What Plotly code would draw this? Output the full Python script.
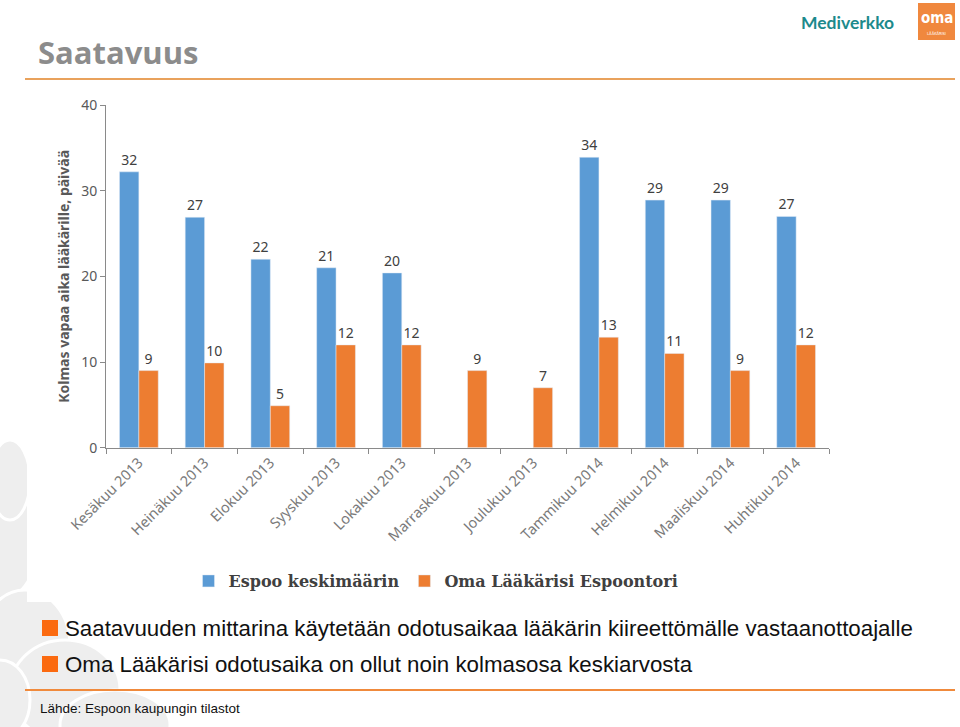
import plotly.graph_objects as go

# ---- data ----
categories = ["Kesäkuu 2013", "Heinäkuu 2013", "Elokuu 2013", "Syyskuu 2013", "Lokakuu 2013",
              "Marraskuu 2013", "Joulukuu 2013", "Tammikuu 2014", "Helmikuu 2014",
              "Maaliskuu 2014", "Huhtikuu 2014"]
espoo = [32.2, 26.9, 22.0, 21.0, 20.4, None, None, 33.9, 28.9, 28.9, 27.0]
oma = [9.0, 9.9, 4.9, 12.0, 12.0, 9.0, 7.0, 12.9, 11.0, 9.0, 12.0]
series_names = ["Espoo keskimäärin", "Oma Lääkärisi Espoontori"]
y_title = "Kolmas vapaa aika lääkärille, päivää"
y_ticks = [0, 10, 20, 30, 40]
slide_title = "Saatavuus"
bullets = ["Saatavuuden mittarina käytetään odotusaikaa lääkärin kiireettömälle vastaanottoajalle",
           "Oma Lääkärisi odotusaika on ollut noin kolmasosa keskiarvosta"]
source = "Lähde: Espoon kaupungin tilastot"

W, H = 960, 727
BLUE = "#5b9bd5"
ORANGE = "#ed7d31"

def px(x):
    return x / W

def py(y):
    return 1 - y / H

fig = go.Figure()
fig.add_trace(go.Bar(x=categories, y=espoo, name=series_names[0], marker_color=BLUE,
                     texttemplate="%{y:.0f}", textposition="outside", cliponaxis=False,
                     textfont=dict(family="Noto Sans", size=14, color="#404040")))
fig.add_trace(go.Bar(x=categories, y=oma, name=series_names[1], marker_color=ORANGE,
                     texttemplate="%{y:.0f}", textposition="outside", cliponaxis=False,
                     textfont=dict(family="Noto Sans", size=14, color="#404040")))

shapes = []
# decorative background leaves (bottom-left)
leaf = "#eeeeee"
for (x0, y0, x1, y1) in [(-40, 470, 40, 600), (-20, 590, 70, 700), (10, 640, 120, 740),
                         (60, 690, 170, 760), (-30, 660, 30, 740), (-10, 440, 30, 520)]:
    shapes.append(dict(type="circle", xref="paper", yref="paper", x0=px(x0), x1=px(x1),
                       y0=py(y1), y1=py(y0), fillcolor=leaf, line=dict(color="white", width=3),
                       layer="below"))
# white chart image area
shapes.append(dict(type="rect", xref="paper", yref="paper", x0=px(27), x1=px(860),
                   y0=py(602), y1=py(90), fillcolor="white", line=dict(width=0), layer="below"))
# title rule and footer rule
shapes.append(dict(type="line", xref="paper", yref="paper", x0=px(25), x1=px(955),
                   y0=py(79), y1=py(79), line=dict(color="#e9a25c", width=2)))
shapes.append(dict(type="line", xref="paper", yref="paper", x0=px(25), x1=px(955),
                   y0=py(690), y1=py(690), line=dict(color="#f08a3c", width=2)))
# bullet squares
for yc in (628, 664):
    shapes.append(dict(type="rect", xref="paper", yref="paper", x0=px(42), x1=px(58),
                       y0=py(yc + 8), y1=py(yc - 8), fillcolor="#fb6a10", line=dict(width=0)))
# oma logo box
shapes.append(dict(type="rect", xref="paper", yref="paper", x0=px(918), x1=px(955),
                   y0=py(40), y1=py(3), fillcolor="#f0883e", line=dict(width=0)))

annotations = [
    dict(text=f"<b>{slide_title}</b>", x=px(36), y=py(52), xanchor="left", yanchor="middle",
         font=dict(family="Open Sans", size=31, color="#8c8c8c")),
    dict(text="<b>Mediverkko</b>", x=px(847), y=py(23), xanchor="center", yanchor="middle",
         font=dict(family="Lato", size=17.5, color="#1c8a8c")),
    dict(text="<b>oma</b>", x=px(936.5), y=py(18), xanchor="center", yanchor="middle",
         font=dict(family="DejaVu Sans Condensed", size=15, color="white")),
    dict(text="LÄÄKÄRISI", x=px(936.5), y=py(33), xanchor="center", yanchor="middle",
         font=dict(family="DejaVu Sans Condensed", size=4, color="white")),
    dict(text=bullets[0], x=px(63), y=py(628), xanchor="left", yanchor="middle",
         font=dict(family="Liberation Sans", size=22.3, color="#111111")),
    dict(text=bullets[1], x=px(63), y=py(664), xanchor="left", yanchor="middle",
         font=dict(family="Liberation Sans", size=22.3, color="#111111")),
    dict(text=source, x=px(38), y=py(708), xanchor="left", yanchor="middle",
         font=dict(family="Liberation Sans", size=13.5, color="#111111")),
]
for a in annotations:
    a.update(xref="paper", yref="paper", showarrow=False)

fig.update_layout(
    width=W, height=H, margin=dict(l=0, r=0, t=0, b=0),
    paper_bgcolor="white", plot_bgcolor="rgba(0,0,0,0)",
    barmode="group", bargap=0.41, bargroupgap=0,
    shapes=shapes, annotations=annotations,
    showlegend=True,
    legend=dict(orientation="h", x=px(436), y=py(581), xanchor="center", yanchor="middle",
                font=dict(family="DejaVu Serif", size=16, color="#404040", weight="bold"),
                bgcolor="rgba(0,0,0,0)"),
    xaxis=dict(domain=[px(106), px(829)], showline=True, linecolor="#8a8a8a", linewidth=1,
               ticks="outside", ticklen=5, tickcolor="#8a8a8a", tickson="boundaries",
               tickangle=-45, automargin=False,
               tickfont=dict(family="Noto Sans", size=14.5, color="#7a7a7a"), showgrid=False),
    yaxis=dict(domain=[py(447.7), py(105)], range=[0, 40], tickvals=y_ticks,
               showline=True, linecolor="#8a8a8a", linewidth=1, ticks="outside", ticklen=5,
               tickcolor="#8a8a8a", showgrid=False, zeroline=False, automargin=False,
               tickfont=dict(family="Noto Sans", size=14, color="#595959"),
               title=dict(text=y_title, standoff=8,
                          font=dict(family="Noto Sans", size=14, color="#595959", weight="bold"))),
)

fig.write_html("out.html", config={"displayModeBar": False},
               post_script="document.body.style.margin='0';document.body.style.padding='0';")
